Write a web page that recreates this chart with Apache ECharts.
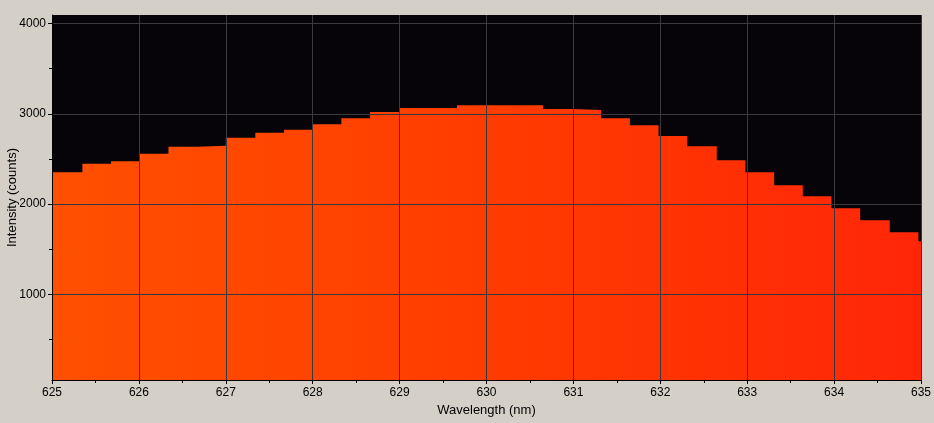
<!DOCTYPE html>
<html>
<head>
<meta charset="utf-8">
<script src="https://cdn.jsdelivr.net/npm/echarts@6/dist/echarts.min.js"></script>
<style>
  html, body { margin: 0; padding: 0; background: #d4d0c8; }
  #chart { width: 934px; height: 423px; }
</style>
</head>
<body>
<div id="chart"></div>
<script>
// bin start wavelengths (nm)
const wavelengths = [625.00, 625.35, 625.68, 626.01, 626.34, 626.67, 627.00, 627.34,
  627.67, 628.00, 628.33, 628.66, 629.00, 629.33, 629.66, 629.99, 630.32, 630.65,
  630.99, 631.32, 631.65, 631.98, 632.31, 632.65, 632.98, 633.31, 633.64, 633.97,
  634.30, 634.64, 634.97, 635.00];
// counts per bin (last value repeats to close the final step)
const counts = [2354, 2446, 2476, 2557, 2635, 2646, 2734, 2790, 2823, 2885, 2952,
  3019, 3063, 3063, 3096, 3096, 3096, 3052, 3041, 2952, 2874, 2753, 2642, 2487,
  2354, 2210, 2088, 1955, 1823, 1690, 1590, 1590];
const yTicks = [1000, 2000, 3000, 4000];
const yMinorTicks = [500, 1500, 2500, 3500];

const font = 'Liberation Sans, Arial, sans-serif';
const chart = echarts.init(document.getElementById('chart'));

const option = {
  backgroundColor: '#d4d0c8',
  animation: false,
  grid: {
    left: 52, top: 15, right: 13, bottom: 43,
    outerBoundsMode: 'none',
    containLabel: false,
    show: true, backgroundColor: '#060409', borderWidth: 0
  },
  xAxis: {
    type: 'value',
    min: 625, max: 635, interval: 1,
    z: 5,
    name: 'Wavelength (nm)',
    nameLocation: 'middle',
    nameGap: 24,
    nameMoveOverlap: false,
    nameTextStyle: { color: '#000', fontFamily: font, fontSize: 13 },
    axisLine: { lineStyle: { color: '#000', width: 1 } },
    axisTick: { length: 4, lineStyle: { color: '#000' } },
    minorTick: { show: true, splitNumber: 2, length: 3, lineStyle: { color: '#000' } },
    axisLabel: { color: '#000', fontFamily: font, fontSize: 12, margin: 7, formatter: v => String(v) },
    splitLine: { show: true, lineStyle: { color: '#3a3a3e', width: 1 } }
  },
  yAxis: [{
    type: 'value',
    min: 53, max: 4094,
    z: 5,
    name: 'Intensity (counts)',
    nameLocation: 'middle',
    nameGap: 33,
    nameMoveOverlap: false,
    nameTextStyle: { color: '#000', fontFamily: font, fontSize: 13 },
    axisLine: { show: true, lineStyle: { color: '#000', width: 1 } },
    axisTick: { show: true, length: 4, customValues: yTicks, lineStyle: { color: '#000' } },
    axisLabel: { color: '#000', fontFamily: font, fontSize: 12, margin: 6, customValues: yTicks,
      padding: [3, 0, 0, 0], formatter: v => String(v) },
    splitLine: { show: true, lineStyle: { color: '#3a3a3e', width: 1 } }
  }, {
    // minor ticks only
    type: 'value',
    min: 53, max: 4094,
    position: 'left',
    z: 5,
    axisLine: { show: false },
    axisTick: { show: true, length: 3, customValues: yMinorTicks, lineStyle: { color: '#000' } },
    axisLabel: { show: false },
    splitLine: { show: false }
  }],
  series: [{
    type: 'line',
    step: 'end',
    symbol: 'none',
    clip: true,
    lineStyle: { width: 0 },
    areaStyle: {
      opacity: 1,
      color: new echarts.graphic.LinearGradient(0, 0, 1, 0, [
        { offset: 0, color: '#ff5000' },
        { offset: 0.5, color: '#ff3c00' },
        { offset: 1, color: '#ff2608' }
      ])
    },
    data: wavelengths.map((w, i) => [w, counts[i]])
  }]
};

chart.setOption(option);
</script>
</body>
</html>
